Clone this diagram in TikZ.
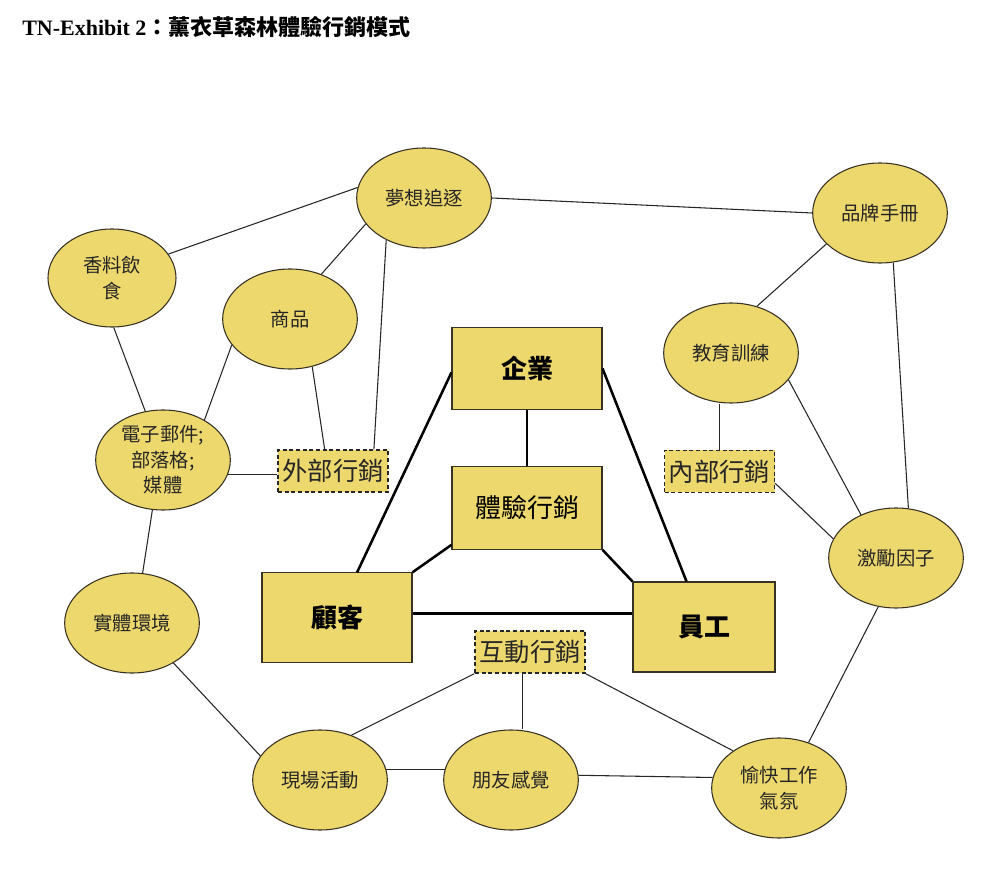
\documentclass[tikz,border=0pt]{standalone}
\usepackage{fontspec}
\setmainfont{Liberation Serif}
\newfontfamily\cjk{Noto Sans CJK TC}
\usetikzlibrary{shapes.geometric}
\definecolor{lavfill}{RGB}{237,216,110}
\definecolor{lavline}{RGB}{55,50,35}
\begin{document}
\begin{tikzpicture}[x=0.75pt, y=-0.75pt,
	idea/.style={ellipse, draw=lavline, line width=0.8pt, fill=lavfill, minimum width=101pt, minimum height=75pt, inner sep=0pt, align=center, text=black!85, font=\cjk\fontsize{14.5}{19}\selectfont},
	core/.style={rectangle, draw=lavline, line width=0.8pt, fill=lavfill, minimum width=112.5pt, minimum height=62pt, inner sep=0pt, font=\cjk\bfseries\fontsize{19.5}{24}\selectfont},
	channel/.style={rectangle, draw=black!85, line width=1.1pt, dash pattern=on 3pt off 2pt, fill=lavfill, minimum width=82.5pt, minimum height=31.5pt, inner sep=0pt, text=black!85, font=\cjk\fontsize{19}{24}\selectfont},
	link/.style={draw=black!85, line width=0.8pt},
	bond/.style={draw=black, line width=1.9pt}]
	\useasboundingbox (0,0) rectangle (1000,873);
	%title
	\node[anchor=west, inner sep=0pt, font=\bfseries\fontsize{16.5}{20}\selectfont] (title) at (22,27) {TN-Exhibit 2{\cjk ：薰衣草森林體驗行銷模式}};
	%ideas
	\node[idea] (dream) at (424,198) {夢想追逐};
	\node[idea, minimum width=96pt, minimum height=73.5pt] (spice) at (112,278) {香料飲\\食};
	\node[idea] (goods) at (290,319) {商品};
	\node[idea] (email) at (163,460) {電子郵件;\\部落格;\\媒體};
	\node[idea] (place) at (132,623) {實體環境};
	\node[idea] (brand) at (880,213) {品牌手冊};
	\node[idea] (train) at (731,353) {教育訓練};
	\node[idea] (motive) at (896,558) {激勵因子};
	\node[idea] (event) at (320,780) {現場活動};
	\node[idea] (friend) at (511,780) {朋友感覺};
	\node[idea] (mood) at (779,788) {愉快工作\\氣氛};
	%boxes
	\node[core] (corp) at (527,368.5) {企業};
	\node[core, font=\cjk\fontsize{19.5}{24}\selectfont] (exp) at (527,508) {體驗行銷};
	\node[core, minimum height=67pt] (cust) at (337,617.5) {顧客};
	\node[core, minimum width=106.5pt, minimum height=67.5pt] (staff) at (704,627) {員工};
	\node[channel] (outer) at (333,471) {外部行銷};
	\node[channel] (inner) at (719.5,471.5) {內部行銷};
	\node[channel] (inter) at (530,652) {互動行銷};
	%bonds
	\draw[bond] (corp.183) -- (cust.66);
	\draw[bond] (corp.east) -- (staff.111);
	\draw[bond, line width=1.5pt] (corp.south) -- (exp.north);
	\draw[bond] (exp.206) -- (cust.north east);
	\draw[bond] (exp.south east) -- (staff.north west);
	\draw[bond] (cust.3) -- (cust.3 -| staff.west);
	%links
	\foreach \a/\b in {dream.171/spice.23, dream.0/brand.180, dream.204/goods.55,
		dream.228/outer.28, spice.272/email.110, goods.204/email.44,
		goods.295/outer.111, email.258/place.78, brand.210/train.61,
		brand.285/motive.76, train.335/motive.129, inner.348/motive.163,
		motive.250/mood.57, place.316/event.158, inter.south west/event.55,
		inter.south east/mood.141, event.9/friend.171, friend.4/mood.171}
	\draw[link] (\a) -- (\b);
	\draw[link] (email.347) -- (email.347 -| outer.west);
	\draw[link] (inner.north) -- (inner.north |- train.south);
	\draw[link] (inter.250) -- (inter.250 |- friend.north);
\end{tikzpicture}
\end{document}
